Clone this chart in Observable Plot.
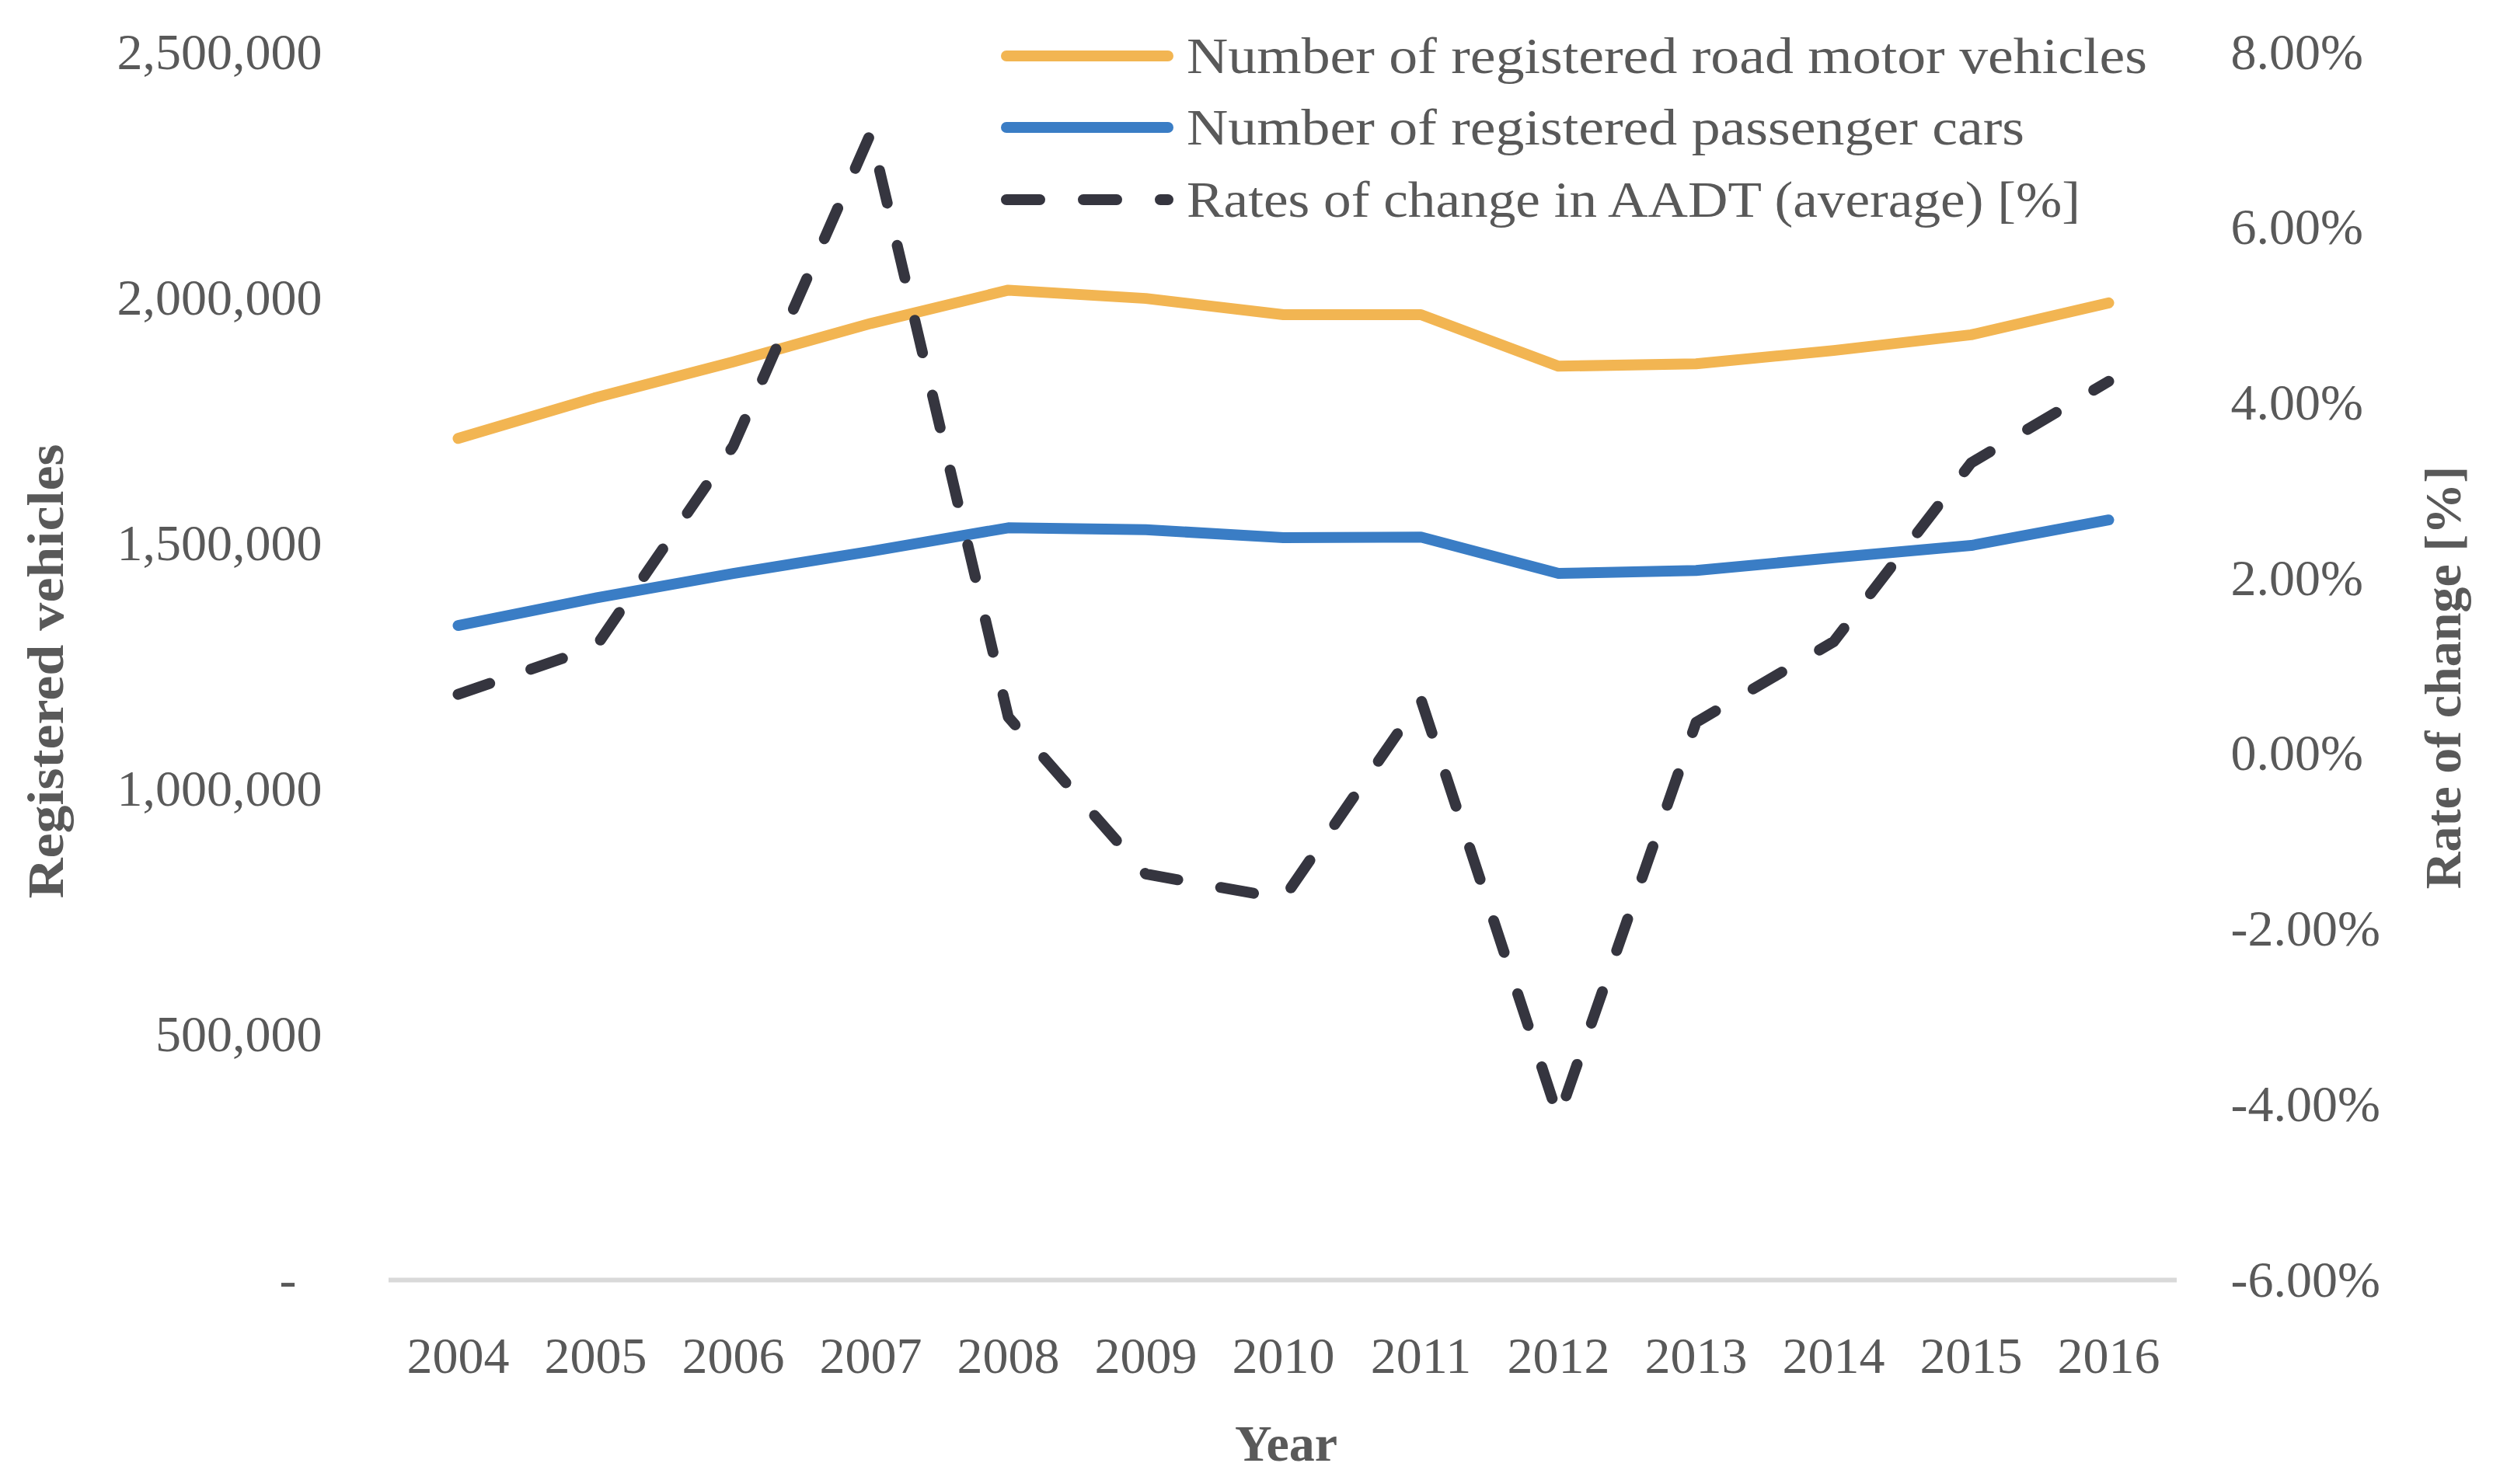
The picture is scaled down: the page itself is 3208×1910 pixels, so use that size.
<!DOCTYPE html>
<html>
<head>
<meta charset="utf-8">
<script src="https://cdn.jsdelivr.net/npm/d3@7"></script>
<script src="https://cdn.jsdelivr.net/npm/@observablehq/plot@0.6"></script>
<style>
  body { margin: 0; background: #fff; }
  #chart { position: relative; width: 3208px; height: 1910px; }
</style>
</head>
<body>
<div id="chart"></div>
<script>
// ---- data ----
const years = [2004, 2005, 2006, 2007, 2008, 2009, 2010, 2011, 2012, 2013, 2014, 2015, 2016];
const roadMotorVehicles = [1714000, 1797000, 1870000, 1948000, 2016000, 1999000, 1966000, 1966000, 1861000, 1866000, 1893000, 1925000, 1990000];
const passengerCars = [1333000, 1389000, 1439000, 1484000, 1532000, 1528000, 1512000, 1513000, 1439000, 1445000, 1471000, 1496000, 1548000];
const aadtChange = [0.68, 1.22, 3.51, 7.08, 0.42, -1.37, -1.65, 0.62, -4.15, 0.36, 1.28, 3.32, 4.25];
const leftTicks = [0, 500000, 1000000, 1500000, 2000000, 2500000];
const rightTicks = [-6, -4, -2, 0, 2, 4, 6, 8];
const seriesNames = [
  "Number of registered road motor vehicles",
  "Number of registered passenger cars",
  "Rates of change in AADT (average) [%]"
];
const axisTitles = { left: "Registered vehicles", right: "Rate of change [%]", x: "Year" };

// ---- mapping of right axis onto left scale ----
const RMIN = rightTicks[0], RMAX = rightTicks[rightTicks.length - 1], YMAX = leftTicks[leftTicks.length - 1];
const toLeft = r => (r - RMIN) / (RMAX - RMIN) * YMAX;
const fromLeft = v => v / YMAX * (RMAX - RMIN) + RMIN;

const rows = years.map((year, i) => ({
  year, road: roadMotorVehicles[i], cars: passengerCars[i], rate: aadtChange[i]
}));

const colors = { road: "#F2B552", cars: "#3A7DC5", rate: "#35353F" };
const textColor = "#595959";
const font = "'Liberation Serif', 'DejaVu Serif', serif";
const SW = 14;
const DASH = "43,56";

const plot = Plot.plot({
  width: 3208,
  height: 1910,
  marginTop: 67,
  marginBottom: 263,
  marginLeft: 500,
  marginRight: 407,
  style: { fontFamily: font, fontSize: "66px", color: textColor, background: "#fff" },
  x: { type: "point", domain: years, padding: 0.5 },
  y: { domain: [0, YMAX] },
  marks: [
    Plot.ruleY([0], { stroke: "#D9D9D9", strokeWidth: 6 }),
    Plot.axisX({ tickSize: 0, tickPadding: 73, label: null, tickFormat: d => String(d) }),
    Plot.axisY(leftTicks, {
      anchor: "left", tickSize: 0, tickPadding: 86, label: null,
      tickFormat: d => d === 0 ? "-\u00a0\u00a0" : d3.format(",")(d)
    }),
    Plot.axisY(rightTicks.map(toLeft), {
      anchor: "right", tickSize: 0, tickPadding: 69, label: null,
      tickFormat: v => fromLeft(v).toFixed(2) + "%"
    }),
    Plot.line(rows, { x: "year", y: "road", stroke: colors.road, strokeWidth: SW, strokeLinecap: "round", strokeLinejoin: "round" }),
    Plot.line(rows, { x: "year", y: "cars", stroke: colors.cars, strokeWidth: SW, strokeLinecap: "round", strokeLinejoin: "round" }),
    Plot.line(rows, { x: "year", y: d => toLeft(d.rate), stroke: colors.rate, strokeWidth: SW, strokeDasharray: DASH, strokeLinecap: "round", strokeLinejoin: "round" })
  ]
});

const svg = d3.select(plot);

// ---- axis titles ----
const titles = svg.append("g")
  .attr("fill", textColor)
  .attr("font-family", font)
  .attr("font-size", 66)
  .attr("font-weight", "bold")
  .attr("text-anchor", "middle");
titles.append("text")
  .attr("transform", "translate(58,864) rotate(-90)")
  .attr("dy", "0.35em")
  .attr("textLength", 585)
  .attr("lengthAdjust", "spacingAndGlyphs")
  .text(axisTitles.left);
titles.append("text")
  .attr("transform", "translate(3143,872) rotate(-90)")
  .attr("dy", "0.35em")
  .text(axisTitles.right);
titles.append("text")
  .attr("x", 1655).attr("y", 1857)
  .attr("dy", "0.35em")
  .text(axisTitles.x);

// ---- legend (top right, inside plot area) ----
const leg = svg.append("g").attr("class", "legend").attr("text-anchor", "start");
const legendRows = [
  { name: seriesNames[0], color: colors.road, dash: null, len: 1236 },
  { name: seriesNames[1], color: colors.cars, dash: null, len: 1078 },
  { name: seriesNames[2], color: colors.rate, dash: DASH, len: 1150 }
];
const rowY = [72, 164, 257];
legendRows.forEach((r, i) => {
  const g = leg.append("g").attr("transform", `translate(0,${rowY[i]})`);
  g.append("line")
    .attr("x1", 1295).attr("x2", 1503).attr("y1", 0).attr("y2", 0)
    .attr("stroke", r.color).attr("stroke-width", SW)
    .attr("stroke-linecap", "round")
    .attr("stroke-dasharray", r.dash);
  g.append("text")
    .attr("x", 1527).attr("y", 22)
    .attr("fill", textColor)
    .attr("font-family", font)
    .attr("font-size", 66)
    .attr("textLength", r.len)
    .attr("lengthAdjust", "spacingAndGlyphs")
    .text(r.name);
});

document.getElementById("chart").appendChild(plot);
</script>
</body>
</html>
